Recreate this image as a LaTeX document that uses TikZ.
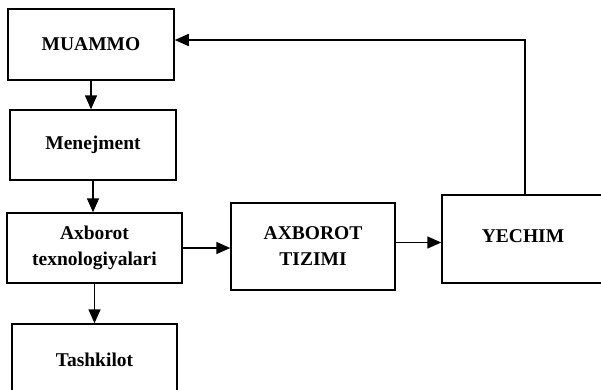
\documentclass[tikz,border=0pt]{standalone}
\usepackage{fontspec}
\setmainfont{Liberation Serif}
\usetikzlibrary{arrows.meta,calc}
\begin{document}
\begin{tikzpicture}[x=1pt,y=-1pt,
  box/.style={draw,line width=1.5pt,inner sep=0pt,align=center,font=\fontsize{19.5}{26}\selectfont\bfseries},
  arr/.style={line width=1.5pt,-{Triangle[length=14pt,width=12pt]}}]
\useasboundingbox (0,0) rectangle (601,389);
\clip (0,0) rectangle (601,389);
\node[box,minimum width=166,minimum height=71] (mu) at (91,44.5) {MUAMMO};
\node[box,minimum width=166,minimum height=70] (me) at (93,145) {Menejment};
\node[box,minimum width=175,minimum height=70] (ax) at (94.5,248) {Axborot\\texnologiyalari};
\node[box,minimum width=165,minimum height=72] (ta) at (94.5,360) {Tashkilot};
\node[box,minimum width=164,minimum height=87] (ti) at (313,246.5) {AXBOROT\\TIZIMI};
\node[box,minimum width=162,minimum height=88] (ye) at (523,239) {\raisebox{5pt}{YECHIM}};
\coordinate (corner) at (525,40);
\draw[arr] (mu.south) -- (mu.south |- me.north);
\draw[arr] (me.south) -- (me.south |- ax.north);
\draw[arr] (ax.south) -- (ax.south |- ta.north);
\draw[arr] (ax.east) -- (ax.east -| ti.west);
\draw[arr] ([yshift=4pt]ti.east) -- ([yshift=4pt]ti.east -| ye.west);
\draw[arr] (ye.north -| corner) -- (corner) -- (corner -| mu.east);
\end{tikzpicture}
\end{document}
